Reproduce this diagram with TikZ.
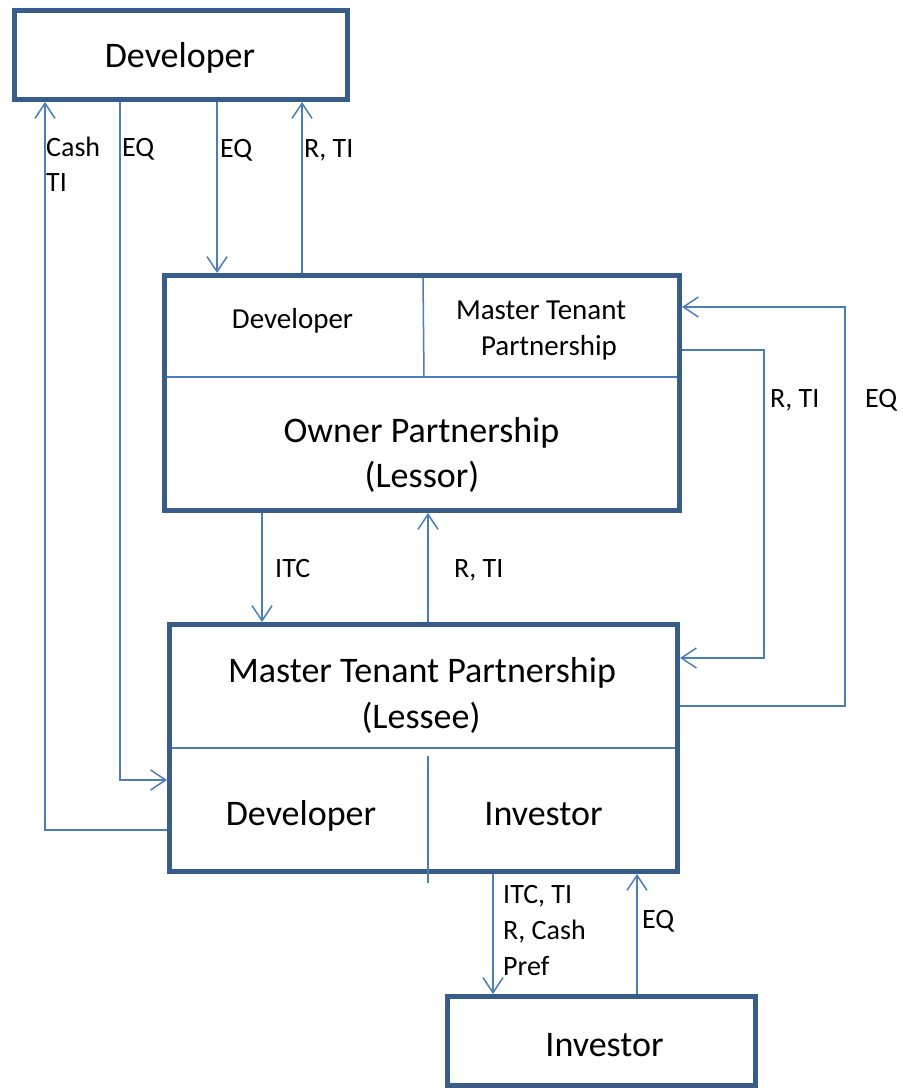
\documentclass[tikz,border=0pt]{standalone}
\usepackage{fontspec}
\setmainfont{Carlito}
\usetikzlibrary{arrows.meta}
\definecolor{boxblue}{HTML}{385D8A}
\definecolor{lineblue}{HTML}{4A7EBB}
\begin{document}
\begin{tikzpicture}[x=1pt,y=-1pt,
  box/.style={draw=boxblue,line width=5pt,rectangle,inner sep=0pt,fill=none},
  inner/.style={draw=lineblue,line width=1.5pt},
  arr/.style={draw=lineblue,line width=1.5pt,-{Straight Barb[length=15pt,width=20pt,line width=1.5pt]}},
  big/.style={inner sep=0pt,anchor=base,font=\fontsize{36}{44}\selectfont},
  mid/.style={inner sep=0pt,anchor=base,font=\fontsize{29}{36}\selectfont},
  lab/.style={inner sep=0pt,anchor=base west,font=\fontsize{28}{35}\selectfont}]
\useasboundingbox (0,0) rectangle (902,1091);
\fill[white] (0,0) rectangle (902,1091);
% boxes
\node[box,minimum width=333pt,minimum height=89pt] (b1) at (181,55) {};
\node[box,minimum width=515pt,minimum height=235pt] (b2) at (422,393) {};
\node[box,minimum width=508pt,minimum height=247pt] (b3) at (423.5,748) {};
\node[box,minimum width=308pt,minimum height=89pt] (b4) at (601.5,1041) {};
% inner dividers
\draw[inner] ([xshift=5pt]b2.west |- 0,377) -- ([xshift=-5pt]b2.east |- 0,377);
\draw[inner] ([yshift=-5pt]b2.north -| 423,0) -- (424,377);
\draw[inner] ([xshift=5pt]b3.west |- 0,748) -- ([xshift=-5pt]b3.east |- 0,748);
\draw[inner] (428,756) -- (428,883);
% texts
\node[big] (t1) at (180,68) {Developer};
\node[mid] (t2a) at (292.5,328) {Developer};
\node[mid] (t2b) at (541,319) {Master Tenant};
\node[mid] (t2c) at (549,355) {Partnership};
\node[big] (t2d) at (421.5,442) {Owner Partnership};
\node[big] (t2e) at (422,487) {(Lessor)};
\node[big] (t3a) at (422,682) {Master Tenant Partnership};
\node[big] (t3b) at (421,728) {(Lessee)};
\node[big] (t3c) at (301,825) {Developer};
\node[big] (t3d) at (543.5,825) {Investor};
\node[big] (t4) at (604.5,1056) {Investor};
% connectors
\draw[arr] (b3.west |- 0,830) -| (b1.south -| 45,0);
\draw[arr] (b1.south -| 120,0) |- (b3.west |- 0,780);
\draw[arr] (b1.south -| 217,0) -- (b2.north -| 217,0);
\draw[arr] (b2.north -| 302,0) -- (b1.south -| 302,0);
\draw[arr] (b2.south -| 262,0) -- (b3.north -| 262,0);
\draw[arr] (b3.north -| 428,0) -- (b2.south -| 428,0);
\draw[arr] (b2.east |- 0,350) -| (764,500) |- (b3.east |- 0,658);
\draw[arr] (b3.east |- 0,706) -| (845,500) |- (b2.east |- 0,307);
\draw[arr] (b3.south -| 493,0) -- (b4.north -| 493,0);
\draw[arr] (b4.north -| 637,0) -- (b3.south -| 637,0);
% labels
\node[lab] (l1a) at (46,157) {Cash};
\node[lab] (l1b) at (46,192) {TI};
\node[lab] (l2) at (122,157) {EQ};
\node[lab] (l3) at (220,158) {EQ};
\node[lab] (l4) at (304,158) {R, TI};
\node[lab] (l5) at (275,577) {ITC};
\node[lab] (l6) at (454,577) {R, TI};
\node[lab] (l7) at (770,407) {R, TI};
\node[lab] (l8) at (865,407) {EQ};
\node[lab] (l9a) at (503,903) {ITC, TI};
\node[lab] (l9b) at (503,939) {R, Cash};
\node[lab] (l9c) at (503,975) {Pref};
\node[lab] (l10) at (642,928) {EQ};
\end{tikzpicture}
\end{document}
